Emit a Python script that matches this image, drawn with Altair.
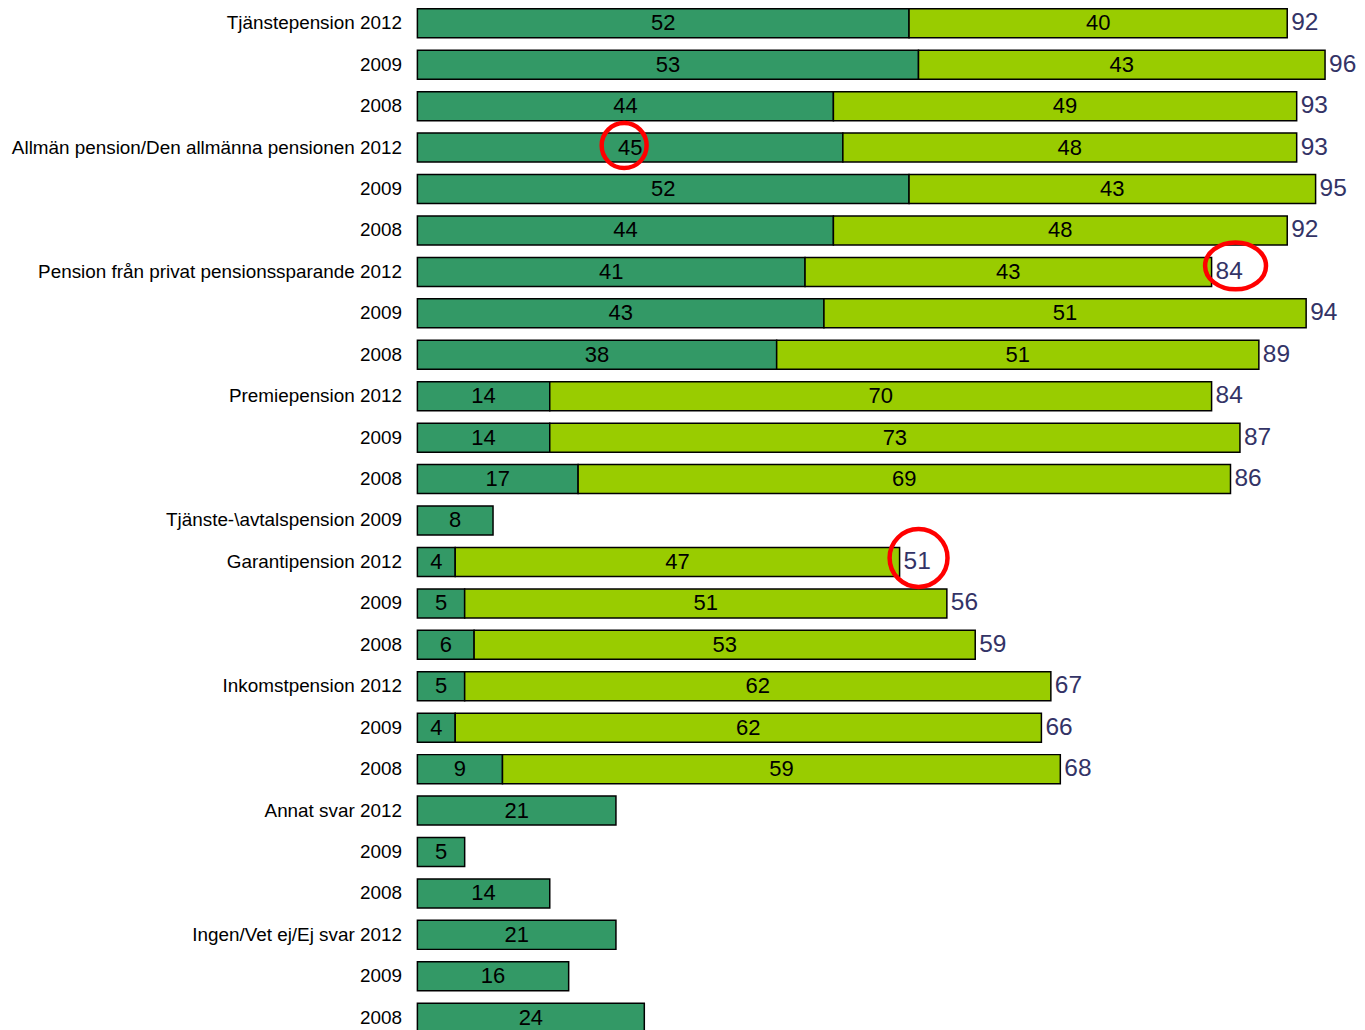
import json
import altair as alt
import pandas as pd

row_labels = [
    "Tjänstepension 2012", "2009", "2008",
    "Allmän pension/Den allmänna pensionen 2012", "2009", "2008",
    "Pension från privat pensionssparande 2012", "2009", "2008",
    "Premiepension 2012", "2009", "2008",
    "Tjänste-\\avtalspension 2009",
    "Garantipension 2012", "2009", "2008",
    "Inkomstpension 2012", "2009", "2008",
    "Annat svar 2012", "2009", "2008",
    "Ingen/Vet ej/Ej svar 2012", "2009", "2008",
]
dark_values = [52, 53, 44, 45, 52, 44, 41, 43, 38, 14, 14, 17, 8,
               4, 5, 6, 5, 4, 9, 21, 5, 14, 21, 16, 24]
light_values = [40, 43, 49, 48, 43, 48, 43, 51, 51, 70, 73, 69, None,
                47, 51, 53, 62, 62, 59, None, None, None, None, None, None]
total_values = [92, 96, 93, 93, 95, 92, 84, 94, 89, 84, 87, 86, None,
                51, 56, 59, 67, 66, 68, None, None, None, None, None, None]
# circled values: (row, which value)
circled = [(3, "dark"), (6, "total"), (13, "total")]

DARK = "#339966"
LIGHT = "#99cc00"
NAVY = "#333366"
FONT = "Liberation Sans"

seg_rows = []
for i, (d, l) in enumerate(zip(dark_values, light_values)):
    seg_rows.append(dict(row=i, kind="dark", start=0, end=d, mid=d / 2, value=d))
    if l is not None:
        seg_rows.append(dict(row=i, kind="light", start=d, end=d + l, mid=d + l / 2, value=l))
seg = pd.DataFrame(seg_rows)

tot = pd.DataFrame([dict(row=i, total=t) for i, t in enumerate(total_values) if t is not None])

circ_rows = []
for r, which in circled:
    if which == "dark":
        circ_rows.append(dict(row=r, which=which, pos=dark_values[r] / 2))
    else:
        circ_rows.append(dict(row=r, which=which, pos=total_values[r]))
circ = pd.DataFrame(circ_rows)

label_expr = json.dumps(row_labels, ensure_ascii=False) + "[datum.value]"

y_enc = alt.Y(
    "row:O",
    scale=alt.Scale(paddingInner=0.3, paddingOuter=0),
    axis=alt.Axis(
        title=None, labelExpr=label_expr, ticks=False, domain=False,
        labelFontSize=18.9, labelFont=FONT, labelColor="black",
        labelPadding=16, labelLimit=500,
    ),
)
x_scale = alt.Scale(domain=[0, 96], nice=False, zero=True)

bars = alt.Chart(seg).mark_bar(stroke="black", strokeWidth=1.5).encode(
    x=alt.X("start:Q", scale=x_scale, axis=None),
    x2="end:Q",
    y=y_enc,
    color=alt.Color("kind:N", scale=alt.Scale(domain=["dark", "light"], range=[DARK, LIGHT]), legend=None),
)

seg_text = alt.Chart(seg).mark_text(fontSize=22, font=FONT, color="black", baseline="middle").encode(
    x=alt.X("mid:Q", scale=x_scale),
    y=alt.Y("row:O"),
    text="value:Q",
)

tot_text = alt.Chart(tot).mark_text(fontSize=24.5, font=FONT, color=NAVY, align="left", baseline="middle", dx=4).encode(
    x=alt.X("total:Q", scale=x_scale),
    y=alt.Y("row:O"),
    text="total:Q",
)

ellipse = "M-1,0C-1,-0.425 -0.5523,-0.77 0,-0.77C0.5523,-0.77 1,-0.425 1,0C1,0.425 0.5523,0.77 0,0.77C-0.5523,0.77 -1,0.425 -1,0Z"

c1 = alt.Chart(circ).transform_filter("datum.row == 3").mark_point(
    shape="circle", size=2025, filled=False, stroke="#ff0000", strokeWidth=4.5, opacity=1, xOffset=-6, yOffset=-2
).encode(x=alt.X("pos:Q", scale=x_scale), y=alt.Y("row:O"))

c2 = alt.Chart(circ).transform_filter("datum.row == 6").mark_point(
    shape=ellipse, size=3721, filled=False, stroke="#ff0000", strokeWidth=4.5, opacity=1, xOffset=24, yOffset=-6
).encode(x=alt.X("pos:Q", scale=x_scale), y=alt.Y("row:O"))

c3 = alt.Chart(circ).transform_filter("datum.row == 13").mark_point(
    shape="circle", size=3364, filled=False, stroke="#ff0000", strokeWidth=4.5, opacity=1, xOffset=19, yOffset=-4
).encode(x=alt.X("pos:Q", scale=x_scale), y=alt.Y("row:O"))

chart = alt.layer(bars, seg_text, tot_text, c1, c2, c3).properties(
    width=909, height=1025,
    autosize=alt.AutoSizeParams(type="none"),
    padding={"left": 410, "top": 0, "right": 32, "bottom": 10},
).configure_view(stroke=None)

chart.save("out.html", embed_options={"renderer": "svg", "actions": False})
